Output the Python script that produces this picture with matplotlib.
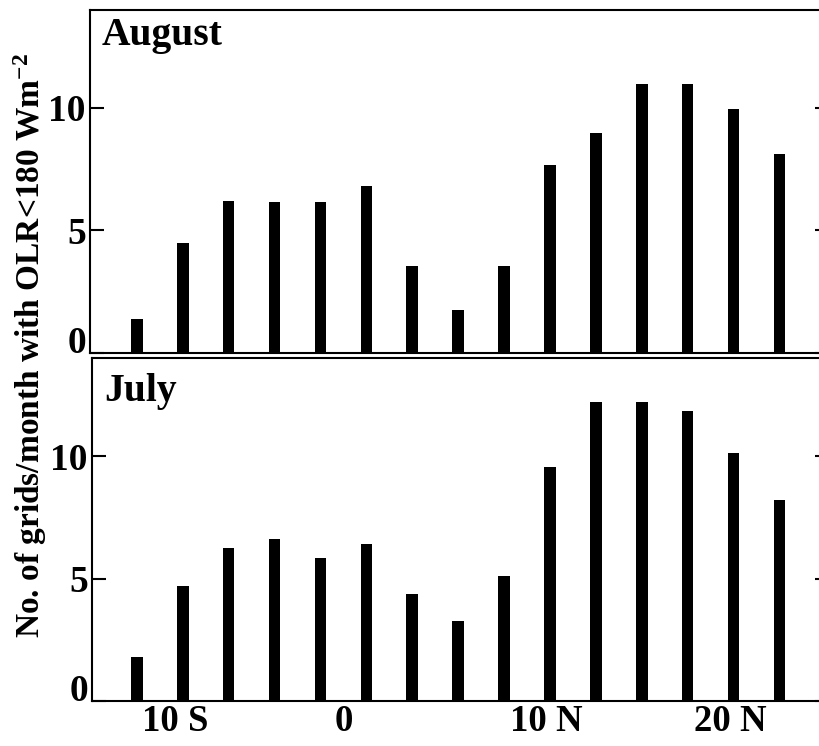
import matplotlib
matplotlib.use("Agg")
import matplotlib.pyplot as plt
import matplotlib.transforms as mtransforms
import numpy as np

# ---- data ----
latitudes = [-11.25, -8.75, -6.25, -3.75, -1.25, 1.25, 3.75, 6.25, 8.75,
             11.25, 13.75, 16.25, 18.75, 21.25, 23.75]
august = [1.36, 4.49, 6.21, 6.14, 6.14, 6.79, 3.54, 1.74, 3.54,
          7.66, 8.98, 10.99, 10.99, 9.96, 8.13]
july = [1.81, 4.70, 6.24, 6.61, 5.86, 6.41, 4.38, 3.28, 5.09,
        9.57, 12.23, 12.23, 11.86, 10.12, 8.21]
panel_titles = ["August", "July"]
xtick_pos = [-10, 0, 10, 20]
xtick_labels = ["10 S", "0", "10 N", "20 N"]
ytick_pos = [0, 5, 10]
ytick_labels = ["0", "5", "10"]
ylabel = r"No. of grids/month with OLR<180 Wm$^{-2}$"

plt.rcParams['font.family'] = ['Liberation Serif', 'DejaVu Serif']
plt.rcParams['font.weight'] = 'bold'
plt.rcParams['mathtext.fontset'] = 'custom'
plt.rcParams['mathtext.rm'] = 'Liberation Serif:bold'
plt.rcParams['mathtext.it'] = 'Liberation Serif:bold'
plt.rcParams['mathtext.bf'] = 'Liberation Serif:bold'
plt.rcParams['mathtext.default'] = 'rm'

W, H = 819, 746
fig = plt.figure(figsize=(W / 100, H / 100), dpi=100)

right_px = 829
px_per_deg = 18.36
x_at_left90 = -13.8
x_right = x_at_left90 + (right_px - 90) / px_per_deg

def box(top_px, bottom_px, lft):
    return [lft / W, 1 - bottom_px / H, (right_px - lft) / W, (bottom_px - top_px) / H]

ax_top = fig.add_axes(box(10, 352.7, 90))
ax_bot = fig.add_axes(box(358.3, 701, 92))

lw = 1.5
for ax, vals, title, ty, lft in [(ax_top, august, panel_titles[0], 0.898, 90),
                                 (ax_bot, july, panel_titles[1], 0.875, 92)]:
    ax.bar(latitudes, vals, width=0.63, color='black', edgecolor='black', linewidth=0)
    ax.set_xlim(x_at_left90 + (lft - 90) / px_per_deg, x_right)
    ax.set_ylim(0, 14.0)
    for s in ax.spines.values():
        s.set_linewidth(lw)
    ax.set_yticks(ytick_pos)
    ax.set_yticklabels(ytick_labels)
    ax.tick_params(axis='y', direction='in', length=10, width=1.5, pad=3,
                   labelsize=27, right=True)
    ax.tick_params(axis='x', length=0)
    for lab in ax.get_yticklabels():
        lab.set_fontweight('bold')
    ax.get_yticklabels()[0].set_verticalalignment('baseline')
    ax.text(0.016, ty, title, transform=ax.transAxes, fontsize=28.5,
            fontweight='bold', ha='left', va='baseline')

ax_top.set_xticks([])

ax_bot.set_xticks(xtick_pos)
ax_bot.set_xticklabels(xtick_labels)
ax_bot.tick_params(axis='x', length=0, pad=2, labelsize=26.5)
for lab, txt in zip(ax_bot.get_xticklabels(), xtick_labels):
    lab.set_fontweight('bold')
    dx = 0
    if txt.endswith("S"):
        dx = 11
    elif txt.endswith("N"):
        dx = 14
    lab.set_transform(lab.get_transform() +
                      mtransforms.ScaledTranslation(dx / 72, 0, fig.dpi_scale_trans))

fig.text(30 / W, 1 - 346 / H, ylabel, rotation=90, ha='center', va='center',
         fontsize=24, fontweight='bold')

fig.savefig("out.png", dpi=100)
